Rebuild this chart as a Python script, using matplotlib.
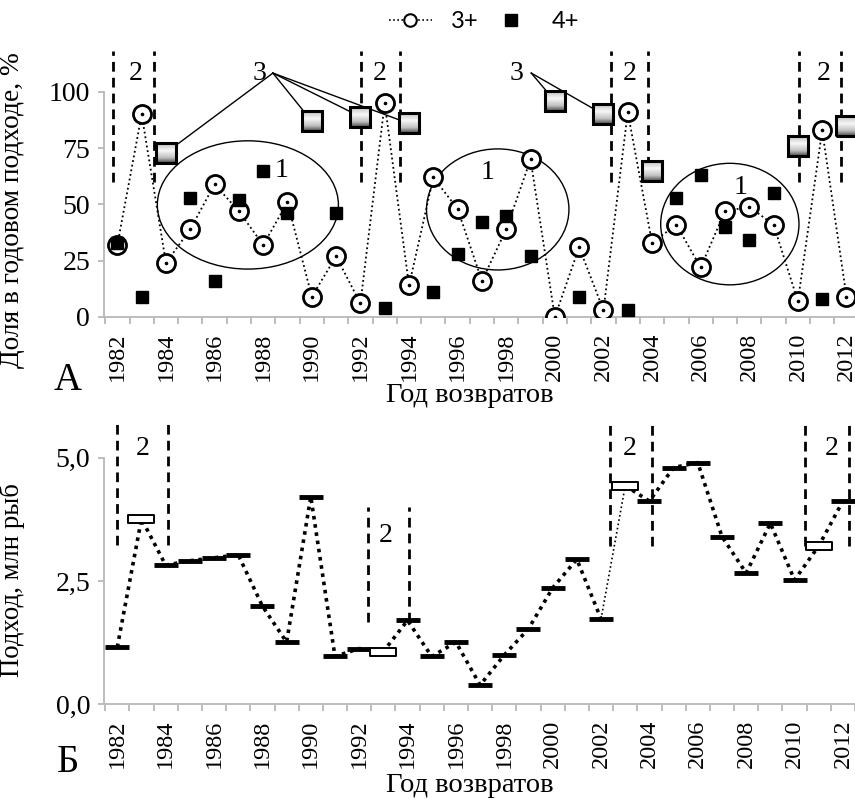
import matplotlib
matplotlib.use("Agg")
import matplotlib.pyplot as plt
from matplotlib.patches import Ellipse, Rectangle
from matplotlib.lines import Line2D
from matplotlib.path import Path
import numpy as np

plt.rcParams['font.family'] = ['Liberation Serif', 'DejaVu Serif']

years = list(range(1982, 2013))
# доля 3+ и 4+ в годовом подходе, %
share3 = [32, 90, 24, 39, 59, 47, 32, 51, 9, 27, 6, 95, 14, 62, 48, 16,
          39, 70, 0, 31, 3, 91, 33, 41, 22, 47, 49, 41, 7, 83, 9]
share4 = [33, 9, 73, 53, 16, 52, 65, 46, 87, 46, 89, 4, 86, 11, 28, 42,
          45, 27, 96, 9, 90, 3, 65, 53, 63, 40, 34, 55, 76, 8, 85]
gray_years = [1984, 1990, 1992, 1994, 2000, 2002, 2004, 2010, 2012]
# подход, млн рыб
run = [1.16, 3.76, 2.82, 2.91, 2.97, 3.03, 1.99, 1.26, 4.21, 0.97, 1.13,
       1.07, 1.70, 0.97, 1.26, 0.39, 1.00, 1.53, 2.36, 2.94, 1.73, 4.43,
       4.12, 4.80, 4.90, 3.40, 2.66, 3.67, 2.52, 3.21, 4.12]
hollow_years = [1983, 1993, 2003, 2011]

ytick_top = [0, 25, 50, 75, 100]
ytick_bot = [0.0, 2.5, 5.0]
ytick_bot_labels = ['0,0', '2,5', '5,0']

W, H = 855, 799
fig = plt.figure(figsize=(W / 100, H / 100), dpi=100)
XL = (1981.45, 2012.35)
left = 104 / W
axA = fig.add_axes([left, 1 - 317 / H, 1 - left, 277 / H])
axB = fig.add_axes([left, 1 - 704.3 / H, 1 - left, 289.3 / H])

GRAY = '#b8b8b8'


def style_axis(ax, ymax_spine):
    for s in ['top', 'right']:
        ax.spines[s].set_visible(False)
    for s in ['left', 'bottom']:
        ax.spines[s].set_color(GRAY)
        ax.spines[s].set_linewidth(1.3)
    ax.spines['left'].set_bounds(0, ymax_spine)
    ax.set_xlim(*XL)
    ax.set_xticks(years[::2])
    ax.set_xticklabels([str(y) for y in years[::2]], rotation=90, fontsize=17.5)
    ax.set_xticks(np.arange(1981.5, 2013, 1.0), minor=True)
    ax.tick_params(axis='x', which='major', length=0, pad=11)
    ax.tick_params(axis='x', which='minor', length=5, color=GRAY, width=1.3)
    ax.tick_params(axis='y', length=4, color=GRAY, width=1.3, labelsize=20, pad=6)


# ---------- panel A ----------
style_axis(axA, 100)
axA.set_yticks(ytick_top)
axA.set_ylabel('Доля в годовом подходе, %', fontsize=19.7)
axA.yaxis.set_label_coords((25 - 104) / 751, (317 - 210) / 277)

axA.plot(years, share3, color='black', ls=(0, (1, 1.6)), lw=1.3, zorder=2)
axA.plot(years, share3, ls='none', marker='o', ms=13, mfc='white',
         mec='black', mew=2, zorder=3)
axA.plot(years, share3, ls='none', marker='o', ms=1.6, color='black', zorder=4)

s4_black = [(y, v) for y, v in zip(years, share4) if y not in gray_years]
axA.plot([p[0] for p in s4_black], [p[1] for p in s4_black], ls='none',
         marker='s', ms=8.5, color='black', zorder=5)

# серые квадраты с градиентом
grad = np.interp(np.linspace(0, 1, 40), [0, 0.4, 0.75, 1], [0.72, 0.97, 0.75, 0.3])
grad_img = np.repeat(grad[:, None], 2, axis=1)
hw, hh = 10 / 24.3, 10 / 2.25
for y, v in zip(years, share4):
    if y in gray_years:
        axA.imshow(grad_img, cmap='gray', vmin=0, vmax=1, aspect='auto',
                   extent=(y - hw, y + hw, v - hh, v + hh), zorder=5,
                   interpolation='bilinear')
        axA.add_patch(Rectangle((y - hw, v - hh), 2 * hw, 2 * hh, fill=False,
                                ec='black', lw=2.2, zorder=5.5))

# пунктирные границы "2"
for x in [1981.81, 1983.5, 1992.02, 1993.63, 2002.3, 2003.84, 2010.06, 2011.76]:
    axA.plot([x, x], [60, 118], color='black', lw=2, dashes=(3.5, 2.2), zorder=1,
             clip_on=False)
for x in [1982.76, 1992.8, 2003.1, 2011.05]:
    axA.text(x, 108.4, '2', ha='center', va='center', fontsize=20)

# выноски "3"
g4 = dict(zip(years, share4))
for tx, ax_apex, targets in [(1987.86, 1988.4, [1984, 1990, 1992, 1994]),
                             (1998.43, 1999.03, [2000, 2002])]:
    axA.text(tx, 108.4, '3', ha='center', va='center', fontsize=20)
    for t in targets:
        axA.plot([ax_apex, t], [108.4, g4[t]], color='black', lw=1, zorder=4.5)

# эллипсы "1"
for (cx, cy, w, h), (lx, ly) in [((1987.37, 49.8, 7.45, 57), (1988.77, 65)),
                                 ((1997.65, 47.8, 5.86, 53.8), (1997.23, 64)),
                                 ((2007.2, 41.3, 5.69, 54), (2007.66, 57.6))]:
    axA.add_patch(Ellipse((cx, cy), w, h, fill=False, ec='black', lw=1, zorder=1))
    axA.text(lx, ly, '1', ha='center', va='center', fontsize=20)

axA.set_xlim(*XL)
axA.set_ylim(0, 123.1)

fig.text(68 / W, 1 - 380 / H, 'А', fontsize=28, ha='center', va='center')
fig.text(470 / W, 1 - 396 / H, 'Год возвратов', fontsize=20.5, ha='center', va='center')

# легенда
h3 = Line2D([], [], color='black', ls=(0, (1, 1.5)), lw=1.2, marker='o', ms=9,
            mfc='white', mec='black', mew=1.5)
h4 = Line2D([], [], ls='none', marker='s', ms=8, color='black')
leg = fig.legend([h3, h4], ['3+', '4+'], loc='center', ncol=2, frameon=False,
                 bbox_to_anchor=(484 / W, 1 - 22 / H), handlelength=1.8,
                 columnspacing=0.5, handletextpad=0.8,
                 prop={'family': 'Lato', 'size': 17})

# ---------- panel Б ----------
style_axis(axB, 5.0)
axB.set_ylim(0, 5.865)
axB.set_yticks(ytick_bot)
axB.set_yticklabels(ytick_bot_labels)
axB.set_ylabel('Подход, млн рыб', fontsize=19.3)
axB.yaxis.set_label_coords((25 - 104) / 751, (704.3 - 580) / 289.3)

i03 = years.index(2003)
axB.plot(years[:i03], run[:i03], color='black', ls=(0, (1, 1.3)), lw=2.6, zorder=2)
axB.plot(years[i03:], run[i03:], color='black', ls=(0, (1, 1.3)), lw=2.6, zorder=2)
axB.plot(years[i03 - 1:i03 + 1], run[i03 - 1:i03 + 1], color='black',
         ls=(0, (1, 1.6)), lw=1.2, zorder=2)

rect = Path([(-1, -0.3), (1, -0.3), (1, 0.3), (-1, 0.3), (-1, -0.3)],
            [Path.MOVETO, Path.LINETO, Path.LINETO, Path.LINETO, Path.CLOSEPOLY])
rb = [(y, v) for y, v in zip(years, run) if y not in hollow_years]
rh = [(y, v) for y, v in zip(years, run) if y in hollow_years]
axB.plot([p[0] for p in rb], [p[1] for p in rb], ls='none', marker='_', ms=17,
         mew=3.5, color='black', zorder=3)
axB.plot([p[0] for p in rh], [p[1] for p in rh], ls='none', marker=rect, ms=19,
         mfc='white', mec='black', mew=1.4, zorder=3)

for x, y0, y1 in [(1982.0, 3.23, 5.73), (1984.09, 3.23, 5.73),
                  (1992.35, 1.67, 4.0), (1994.04, 1.67, 4.0),
                  (2002.36, 3.2, 5.73), (2004.09, 3.2, 5.73),
                  (2010.43, 3.2, 5.73), (2012.24, 3.2, 5.73)]:
    axB.plot([x, x], [y0, y1], color='black', lw=2, dashes=(3.5, 2.2), zorder=1)
for x, y in [(1983.05, 5.19), (1993.08, 3.43), (2003.18, 5.19), (2011.53, 5.19)]:
    axB.text(x, y, '2', ha='center', va='center', fontsize=20)

fig.text(68 / W, 1 - 763 / H, 'Б', fontsize=28, ha='center', va='center')
fig.text(470 / W, 1 - 785 / H, 'Год возвратов', fontsize=20.5, ha='center', va='center')

fig.savefig('out.png', dpi=100)
